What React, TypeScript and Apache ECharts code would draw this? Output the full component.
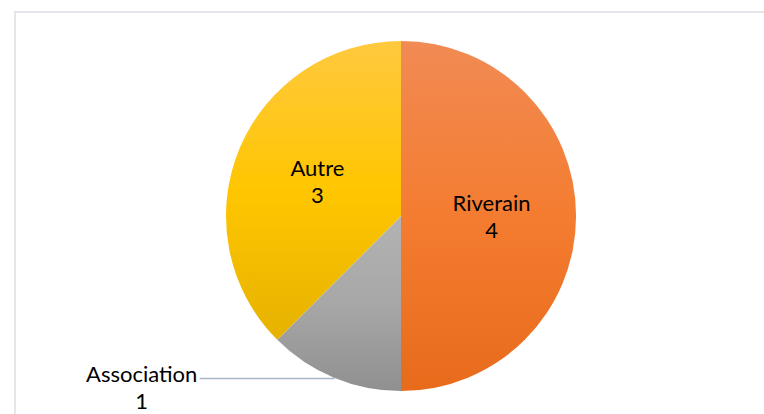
import React, { useEffect, useRef } from "react";
import * as echarts from "echarts";

const categories = ["Riverain", "Association", "Autre"];
const values = [4, 1, 3];
const topColors = ["#f18b54", "#b3b3b3", "#ffc93f"];
const midColors = ["#f47c30", "#a7a7a7", "#ffc600"];
const bottomColors = ["#e86b1c", "#909090", "#e6b200"];
const outsideLabels = ["Association"];

export default function App() {
  const ref = useRef<HTMLDivElement>(null);
  useEffect(() => {
    if (!ref.current) return;
    const chart = echarts.init(ref.current, null, { renderer: "svg" });
    const data = categories.map((name, i) => {
      const outside = outsideLabels.includes(name);
      return {
        name,
        value: values[i],
        itemStyle: {
          color: new echarts.graphic.LinearGradient(0, 0, 0, 1, [
            { offset: 0, color: topColors[i] },
            { offset: 0.5, color: midColors[i] },
            { offset: 1, color: bottomColors[i] },
          ]),
        },
        label: outside
          ? {
              position: "outside",
              distanceToLabelLine: 2,
              formatter: "{a|{b}}\n{a|{c}}",
              padding: [17, 0, 0, 0],
              rich: {
                a: {
                  width: 112,
                  align: "center",
                  fontFamily: "Lato",
                  fontSize: 22,
                  lineHeight: 27,
                  color: "#000000",
                },
              },
            }
          : { position: "inside" },
        labelLine: outside
          ? { show: true, length: 1, length2: 134, lineStyle: { color: "#a9b6c8", width: 1.5 } }
          : { show: false },
      };
    });
    chart.setOption({
      animation: false,
      backgroundColor: "#ffffff",
      graphic: [
        {
          type: "rect",
          shape: { x: 15, y: 12, width: 820, height: 500 },
          style: { fill: "none", stroke: "#e3e6ea", lineWidth: 2 },
          silent: true,
        },
      ],
      series: [
        {
          type: "pie",
          center: [401, 216],
          radius: 175,
          startAngle: 90,
          clockwise: true,
          avoidLabelOverlap: false,
          data,
          label: {
            show: true,
            formatter: "{b}\n{c}",
            fontFamily: "Lato",
            fontSize: 22,
            lineHeight: 27,
            color: "#000000",
            align: "center",
          },
          emphasis: { disabled: true },
        },
      ],
    });
    return () => chart.dispose();
  }, []);
  return (
    <div
      ref={ref}
      style={{ position: "absolute", left: 0, top: 0, width: 764, height: 414 }}
    />
  );
}
